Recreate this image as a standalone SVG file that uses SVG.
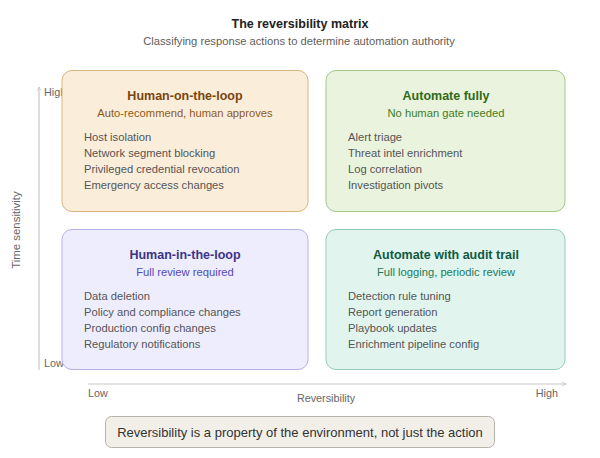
<svg xmlns="http://www.w3.org/2000/svg" width="600" height="458" viewBox="0 0 600 458">
<style>
text{font-family:"Liberation Sans",Arial,sans-serif}
.t{font-size:12.5px;font-weight:bold;fill:#222;text-anchor:middle}
.st{font-size:11.2px;fill:#5f5e5a;text-anchor:middle}
.h{font-size:12.5px;font-weight:bold;text-anchor:middle}
.s{font-size:11.2px;text-anchor:middle}
.i{font-size:11.2px;fill:#555}
.ax{font-size:10.8px;fill:#666}
.axl{stroke:#c8c8c8;stroke-width:1.2;fill:none}
</style>
<defs>
<marker id="arr" viewBox="0 0 6 6" refX="5" refY="3" markerWidth="4" markerHeight="4" orient="auto"><path d="M0,0.5 L5,3 L0,5.5" fill="none" stroke="#c8c8c8" stroke-width="1"/></marker>
</defs>
<text class="t" x="300" y="28">The reversibility matrix</text>
<text class="st" x="299" y="45">Classifying response actions to determine automation authority</text>

<g id="axes">
<line class="axl" x1="39" y1="370" x2="39" y2="87" marker-end="url(#arr)"/>
<text class="ax" x="44" y="96">High</text>
<text class="ax" x="44" y="367">Low</text>
<text class="ax" transform="translate(20,230) rotate(-90)" text-anchor="middle" style="font-size:11.4px">Time sensitivity</text>
<line class="axl" x1="88" y1="384" x2="566" y2="384" marker-end="url(#arr)"/>
<text class="ax" x="88" y="397">Low</text>
<text class="ax" x="326" y="402" text-anchor="middle">Reversibility</text>
<text class="ax" x="558" y="397" text-anchor="end">High</text>
</g>

<g id="human-on-the-loop">
<rect x="62" y="70.5" width="246" height="141" rx="10" fill="#faeeda" stroke="#d8b47e" stroke-width="1"/>
<text class="h" x="185" y="100" fill="#7a4510">Human-on-the-loop</text>
<text class="s" x="185" y="117" fill="#8f5a1a">Auto-recommend, human approves</text>
<text class="i" x="84" y="141">Host isolation</text>
<text class="i" x="84" y="157">Network segment blocking</text>
<text class="i" x="84" y="173">Privileged credential revocation</text>
<text class="i" x="84" y="189">Emergency access changes</text>
</g>

<g id="automate-fully">
<rect x="326" y="70.5" width="239" height="141" rx="10" fill="#eaf3de" stroke="#a5c68a" stroke-width="1"/>
<text class="h" x="446" y="100" fill="#2f6a17">Automate fully</text>
<text class="s" x="446" y="117" fill="#3f7f22">No human gate needed</text>
<text class="i" x="348" y="141">Alert triage</text>
<text class="i" x="348" y="157">Threat intel enrichment</text>
<text class="i" x="348" y="173">Log correlation</text>
<text class="i" x="348" y="189">Investigation pivots</text>
</g>

<g id="human-in-the-loop">
<rect x="62" y="229.5" width="246" height="140" rx="10" fill="#eeedfe" stroke="#b7b1ec" stroke-width="1"/>
<text class="h" x="185" y="259" fill="#3c3489">Human-in-the-loop</text>
<text class="s" x="185" y="276" fill="#534ab7">Full review required</text>
<text class="i" x="84" y="300">Data deletion</text>
<text class="i" x="84" y="316">Policy and compliance changes</text>
<text class="i" x="84" y="332">Production config changes</text>
<text class="i" x="84" y="348">Regulatory notifications</text>
</g>

<g id="automate-with-audit-trail">
<rect x="326" y="229.5" width="239" height="140" rx="10" fill="#e1f5ee" stroke="#94cdb6" stroke-width="1"/>
<text class="h" x="446" y="259" fill="#0f5a42">Automate with audit trail</text>
<text class="s" x="446" y="276" fill="#1d7a5a">Full logging, periodic review</text>
<text class="i" x="348" y="300">Detection rule tuning</text>
<text class="i" x="348" y="316">Report generation</text>
<text class="i" x="348" y="332">Playbook updates</text>
<text class="i" x="348" y="348">Enrichment pipeline config</text>
</g>

<g id="note">
<rect x="105.5" y="416.5" width="389" height="31" rx="6" fill="#f1efe8" stroke="#b4b2a9" stroke-width="1"/>
<text x="300" y="437" text-anchor="middle" font-size="13" fill="#333">Reversibility is a property of the environment, not just the action</text>
</g>
</svg>
